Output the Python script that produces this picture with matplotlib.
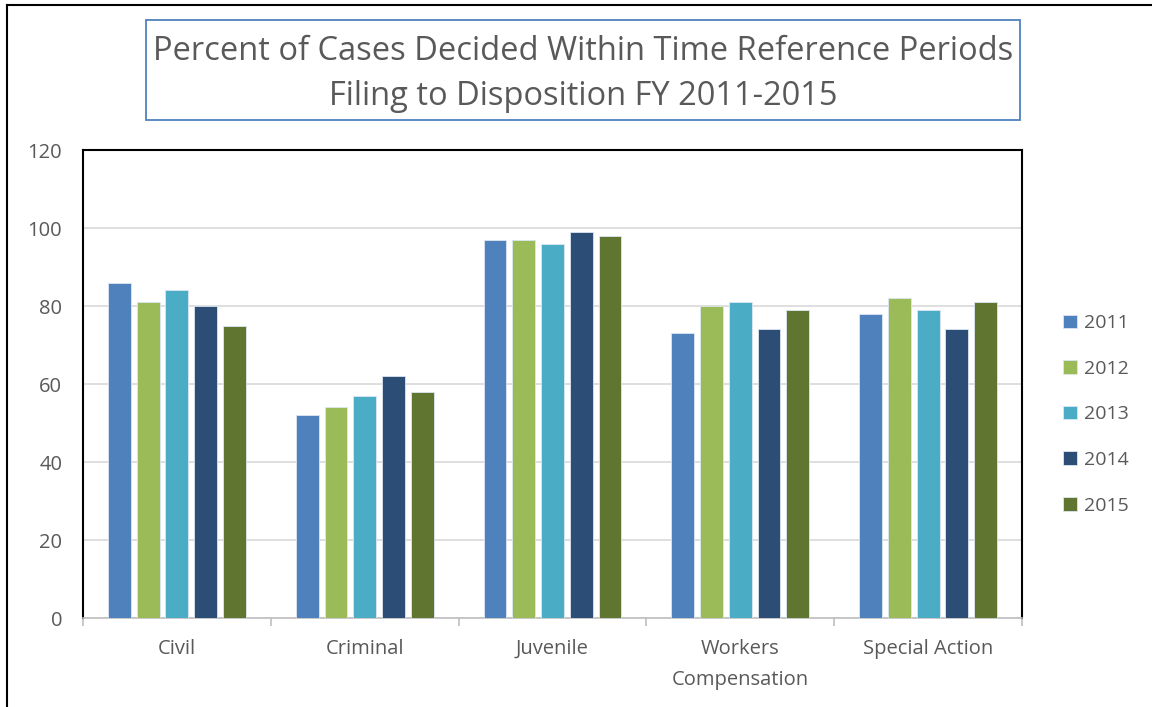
import matplotlib
matplotlib.use("Agg")
import matplotlib.pyplot as plt
import numpy as np
from matplotlib.patches import Rectangle
from matplotlib.lines import Line2D

categories = ["Civil", "Criminal", "Juvenile", "Workers\nCompensation", "Special Action"]
years = ["2011", "2012", "2013", "2014", "2015"]
v2011 = [86, 52, 97, 73, 78]
v2012 = [81, 54, 97, 80, 82]
v2013 = [84, 57, 96, 81, 79]
v2014 = [80, 62, 99, 74, 74]
v2015 = [75, 58, 98, 79, 81]
series = [v2011, v2012, v2013, v2014, v2015]
colors = ["#4f81bd", "#9bbb59", "#4bacc6", "#2c4d75", "#5f7530"]
yticks = [0, 20, 40, 60, 80, 100, 120]

plt.rcParams['font.family'] = ['Open Sans', 'DejaVu Sans']
txt = "#595959"

W, H = 1152, 707
fig = plt.figure(figsize=(W / 100, H / 100), dpi=100)

def fx(px): return px / W
def fy(py): return 1 - py / H

ax = fig.add_axes([fx(83), fy(618), fx(1022) - fx(83), fy(150) - fy(618)])
x = np.arange(len(categories))
step = 0.153
bw = 0.122
for i, (vals, c, yr) in enumerate(zip(series, colors, years)):
    ax.bar(x + (i - 2) * step, vals, width=bw, color=c, edgecolor="#dce6f2",
           linewidth=0.6, label=yr, zorder=3)

ax.set_xlim(-0.5, len(categories) - 0.5)
ax.set_ylim(0, 120)
ax.set_yticks(yticks)
ax.set_yticklabels([str(t) for t in yticks], fontsize=14.5, color=txt)
ax.tick_params(axis='y', length=0, pad=15)
ax.yaxis.grid(True, color="#d9d9d9", linewidth=1.2, zorder=0)
ax.set_axisbelow(True)

ax.set_xticks(x)
ax.set_xticklabels(categories, fontsize=14.5, color=txt, linespacing=1.75)
ax.tick_params(axis='x', length=0, pad=15)
ax.set_xticks(np.arange(-0.5, len(categories), 1.0), minor=True)
ax.tick_params(axis='x', which='minor', length=6, color="#bfbfbf", width=1.2)

for s in ["left", "top", "right"]:
    ax.spines[s].set_color("black")
    ax.spines[s].set_linewidth(1.5)
ax.spines["bottom"].set_color("#bfbfbf")
ax.spines["bottom"].set_linewidth(1.2)

leg = ax.legend(loc="center left", bbox_to_anchor=(1.025, 0.435), frameon=False,
                fontsize=14, labelspacing=1.42, handlelength=0.7, handleheight=0.7,
                handletextpad=0.4)
for t in leg.get_texts():
    t.set_color(txt)

# title box
fig.patches.append(Rectangle((fx(146), fy(120)), fx(1020) - fx(146), fy(20) - fy(120),
                             transform=fig.transFigure, fill=False,
                             edgecolor="#4f81bd", linewidth=1.3))
fig.text(fx(583), fy(74), "Percent of Cases Decided Within Time Reference Periods\nFiling to Disposition FY 2011-2015",
         ha="center", va="center", fontsize=23.5, color=txt, linespacing=1.45)

# outer border lines
fig.lines.append(Line2D([fx(7), 1], [fy(5), fy(5)], transform=fig.transFigure, color="black", linewidth=1.5))
fig.lines.append(Line2D([fx(7), fx(7)], [0, fy(5)], transform=fig.transFigure, color="black", linewidth=1.5))

fig.savefig("out.png", dpi=100)
